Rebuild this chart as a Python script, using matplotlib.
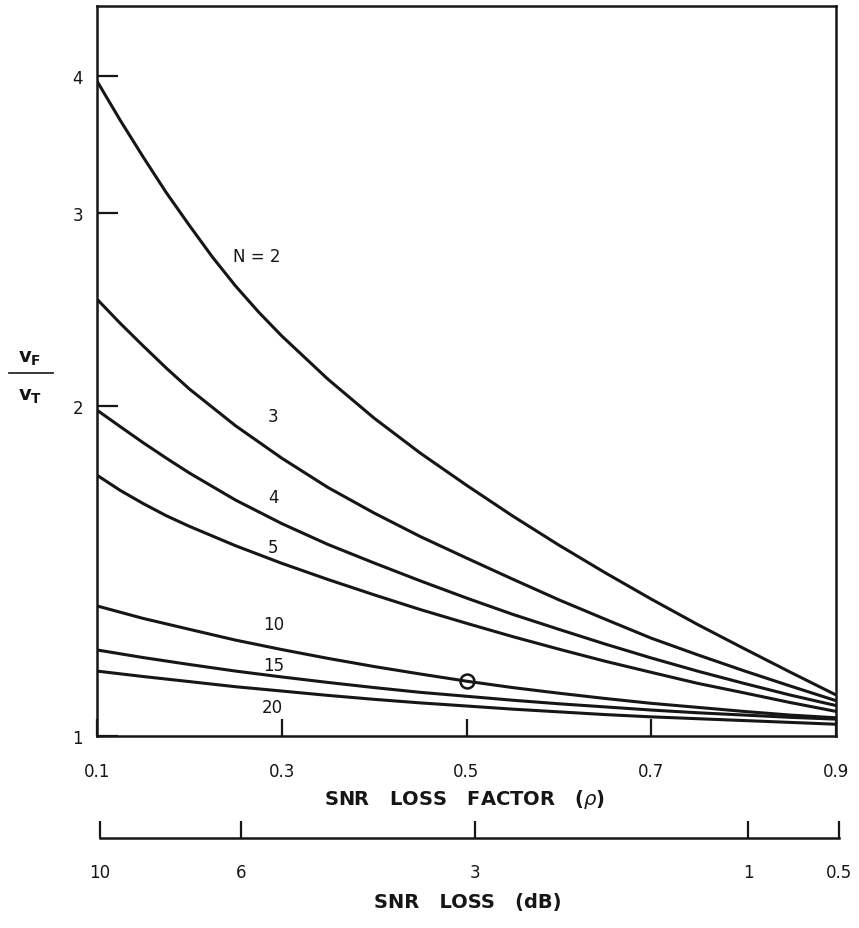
import numpy as np
import matplotlib
matplotlib.use('Agg')
import matplotlib.pyplot as plt
from matplotlib.ticker import NullLocator
from matplotlib.lines import Line2D

plt.rcParams['font.family'] = ['DejaVu Sans']
plt.rcParams['mathtext.fontset'] = 'dejavusans'

# SNR loss factor (rho) where the curves were read
rho_n2 = [0.1, 0.125, 0.15, 0.175, 0.2, 0.225, 0.25, 0.275, 0.3, 0.35, 0.4, 0.45,
          0.5, 0.55, 0.6, 0.65, 0.7, 0.75, 0.8, 0.85, 0.9]
rho_mid = [0.1, 0.125, 0.15, 0.175, 0.2, 0.25, 0.3, 0.35, 0.4, 0.45,
           0.5, 0.55, 0.6, 0.65, 0.7, 0.75, 0.8, 0.85, 0.9]
rho_low = [0.1, 0.15, 0.2, 0.25, 0.3, 0.35, 0.4, 0.45,
           0.5, 0.55, 0.6, 0.65, 0.7, 0.75, 0.8, 0.85, 0.9]

# v_F / v_T for each N
vf_n2 = [3.955, 3.644, 3.372, 3.129, 2.921, 2.733, 2.572, 2.435, 2.316, 2.115, 1.949,
         1.811, 1.693, 1.587, 1.493, 1.409, 1.333, 1.264, 1.202, 1.144, 1.090]
vf_n3 = [2.502, 2.379, 2.268, 2.165, 2.072, 1.918, 1.792, 1.685, 1.597, 1.520,
         1.453, 1.390, 1.331, 1.278, 1.228, 1.186, 1.147, 1.111, 1.077]
vf_n4 = [1.982, 1.915, 1.851, 1.792, 1.737, 1.641, 1.562, 1.495, 1.438, 1.385,
         1.336, 1.291, 1.251, 1.213, 1.178, 1.146, 1.117, 1.090, 1.066]
vf_n5 = [1.729, 1.675, 1.629, 1.588, 1.553, 1.491, 1.437, 1.389, 1.345, 1.304,
         1.267, 1.232, 1.200, 1.170, 1.143, 1.117, 1.095, 1.073, 1.053]
vf_n10 = [1.314, 1.280, 1.251, 1.223, 1.199, 1.177, 1.157, 1.139,
          1.122, 1.107, 1.094, 1.082, 1.071, 1.062, 1.053, 1.045, 1.039]
vf_n15 = [1.198, 1.179, 1.162, 1.146, 1.132, 1.119, 1.107, 1.096,
          1.087, 1.078, 1.070, 1.063, 1.056, 1.050, 1.045, 1.040, 1.036]
vf_n20 = [1.146, 1.133, 1.121, 1.109, 1.099, 1.089, 1.080, 1.072,
          1.065, 1.058, 1.052, 1.046, 1.041, 1.037, 1.033, 1.029, 1.025]

marked_rho = 0.5
marked_vf = 1.122

x_ticks = [0.1, 0.3, 0.5, 0.7, 0.9]
y_ticks = [1, 2, 3, 4]
db_ticks = [10, 6, 3, 1, 0.5]
db_labels = ['10', '6', '3', '1', '0.5']

ink = '#161616'
W, H = 859, 929
fig = plt.figure(figsize=(W/100, H/100), dpi=100)
ax = fig.add_axes([97/W, 1-737/H, 739/W, 730/H])

series = [(rho_n2, vf_n2), (rho_mid, vf_n3), (rho_mid, vf_n4), (rho_mid, vf_n5),
          (rho_low, vf_n10), (rho_low, vf_n15), (rho_low, vf_n20)]
for xs, ys in series:
    ax.plot(xs, ys, color=ink, lw=2.2, solid_capstyle='butt', solid_joinstyle='round')
ax.plot([marked_rho], [marked_vf], 'o', ms=10, mfc='none', mec=ink, mew=1.8)

ax.set_yscale('log')
ax.set_xlim(0.1, 0.9)
ax.set_ylim(1, 4.63)
ax.set_yticks(y_ticks)
ax.set_yticklabels([str(t) for t in y_ticks])
ax.yaxis.set_minor_locator(NullLocator())
ax.set_xticks(x_ticks)
ax.set_xticklabels([str(t) for t in x_ticks])
ax.tick_params(axis='y', direction='in', length=15, width=1.6, pad=10,
               labelsize=12, colors=ink)
ax.tick_params(axis='x', direction='in', length=12, width=1.6, pad=19,
               labelsize=12, colors=ink)
for s in ax.spines.values():
    s.set_linewidth(1.8)
    s.set_color(ink)

# curve labels
ax.text(0.2734, 2.74, 'N = 2', fontsize=12, ha='center', va='center', color=ink)
labs = [('3', 0.291, 1.957), ('4', 0.291, 1.652), ('5', 0.291, 1.487),
        ('10', 0.291, 1.265), ('15', 0.291, 1.161), ('20', 0.29, 1.063)]
for t, xx, yy in labs:
    ax.text(xx, yy, t, fontsize=12, ha='center', va='center', color=ink)

fig.text(465/W, 1-800/H, r'SNR   LOSS   FACTOR   ($\rho$)', fontsize=14,
         fontweight='bold', ha='center', va='center', color=ink)

# y label as fraction
fig.text(30/W, 1-359/H, r'$\mathbf{v_F}$', fontsize=14, ha='center', va='center', color=ink)
fig.add_artist(Line2D([9/W, 53/W], [1-374/H, 1-374/H], color=ink, lw=1.2))
fig.text(30/W, 1-397/H, r'$\mathbf{v_T}$', fontsize=14, ha='center', va='center', color=ink)

# secondary dB scale
ax2 = fig.add_axes([100/W, 1-839/H, 739/W, 0.02])
ax2.set_xlim(0.1, 10**(-0.05))
ax2.set_ylim(0, 1)
ax2.set_xticks([10**(-d/10) for d in db_ticks])
ax2.set_xticklabels(db_labels)
ax2.set_yticks([])
for k in ['top', 'left', 'right']:
    ax2.spines[k].set_visible(False)
ax2.spines['bottom'].set_linewidth(1.8)
ax2.spines['bottom'].set_color(ink)
ax2.patch.set_alpha(0)
ax2.tick_params(axis='x', direction='in', length=12, width=1.6, pad=18,
                labelsize=12, colors=ink)
fig.text(468/W, 1-903/H, 'SNR   LOSS   (dB)', fontsize=14, fontweight='bold',
         ha='center', va='center', color=ink)

fig.savefig('out.png', dpi=100, facecolor='white')
